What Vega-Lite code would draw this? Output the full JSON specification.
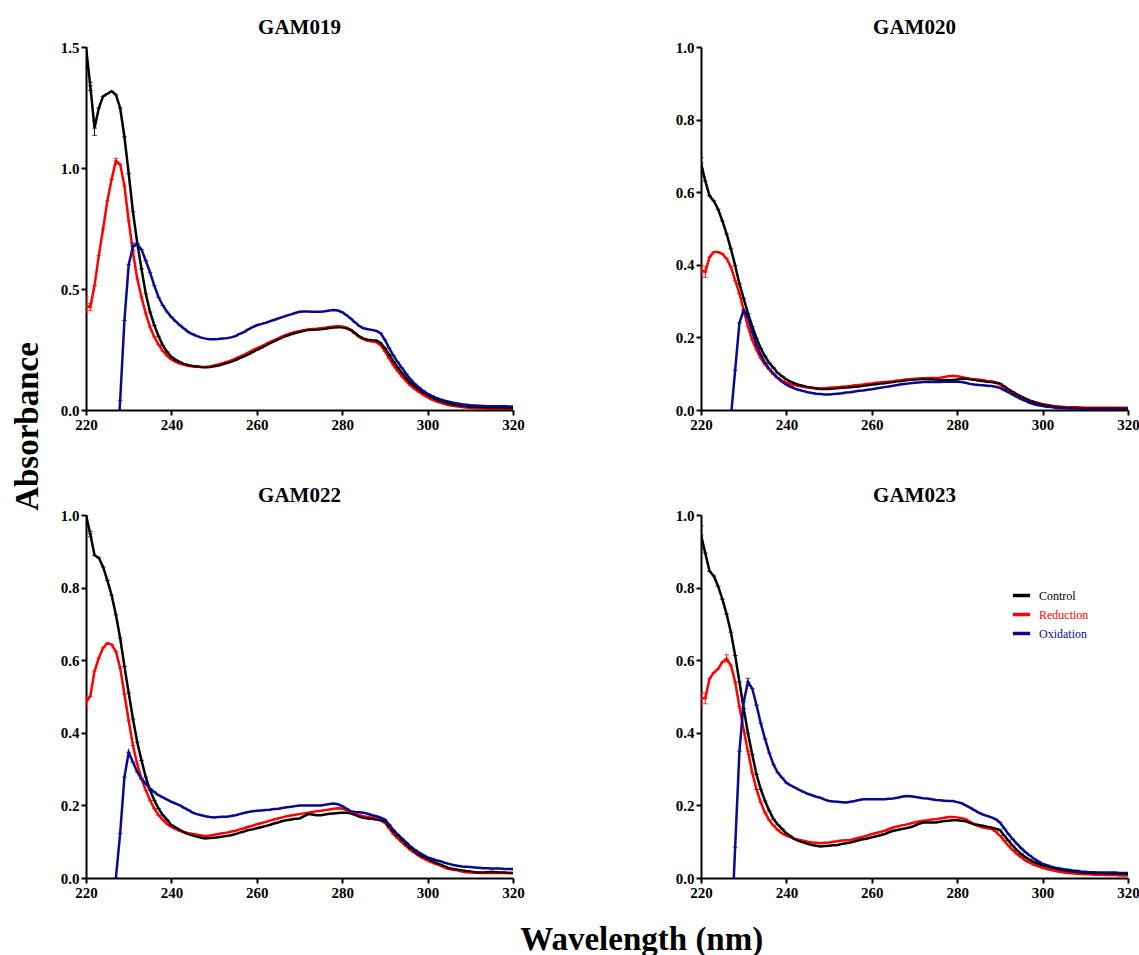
{
"$schema":"https://vega.github.io/schema/vega-lite/v6.json",
"background":"white",
"padding":{"left":12,"top":17,"right":5,"bottom":5},
"config":{"font":"Liberation Serif","view":{"stroke":null},"scale":{"continuousPadding":0},
"axis":{"grid":false,"domainColor":"black","domainWidth":2,"tickColor":"black","tickWidth":2,"tickSize":5,"labelFont":"Liberation Serif","labelFontWeight":"bold","labelFontSize":15,"labelColor":"black","labelPadding":2,"labelFlush":false,"labelOverlap":false},
"title":{"font":"Liberation Serif","fontWeight":"bold","color":"black"}},
"datasets":{
"spectra":[
{"p":"GAM019","w":220,"Control":1.5,"Reduction":0.43},
{"p":"GAM019","w":221,"Control":1.34,"Reduction":0.425},
{"p":"GAM019","w":222,"Control":1.165,"Reduction":0.514},
{"p":"GAM019","w":223,"Control":1.248,"Reduction":0.638},
{"p":"GAM019","w":224,"Control":1.296,"Reduction":0.748},
{"p":"GAM019","w":225,"Control":1.307,"Reduction":0.864},
{"p":"GAM019","w":226,"Control":1.317,"Reduction":0.953},
{"p":"GAM019","w":227,"Control":1.303,"Reduction":1.029,"Oxidation":-0.29},
{"p":"GAM019","w":228,"Control":1.248,"Reduction":1.015,"Oxidation":0.04},
{"p":"GAM019","w":229,"Control":1.129,"Reduction":0.926,"Oxidation":0.37},
{"p":"GAM019","w":230,"Control":0.977,"Reduction":0.782,"Oxidation":0.6},
{"p":"GAM019","w":231,"Control":0.819,"Reduction":0.652,"Oxidation":0.675},
{"p":"GAM019","w":232,"Control":0.69,"Reduction":0.542,"Oxidation":0.685},
{"p":"GAM019","w":233,"Control":0.583,"Reduction":0.466,"Oxidation":0.663},
{"p":"GAM019","w":234,"Control":0.48,"Reduction":0.398,"Oxidation":0.617},
{"p":"GAM019","w":235,"Control":0.405,"Reduction":0.343,"Oxidation":0.569},
{"p":"GAM019","w":236,"Control":0.35,"Reduction":0.302,"Oxidation":0.514},
{"p":"GAM019","w":237,"Control":0.305,"Reduction":0.27,"Oxidation":0.466},
{"p":"GAM019","w":238,"Control":0.267,"Reduction":0.244,"Oxidation":0.432},
{"p":"GAM019","w":239,"Control":0.24,"Reduction":0.224,"Oxidation":0.405},
{"p":"GAM019","w":240,"Control":0.219,"Reduction":0.209,"Oxidation":0.384},
{"p":"GAM019","w":241,"Control":0.207,"Reduction":0.199,"Oxidation":0.366},
{"p":"GAM019","w":242,"Control":0.198,"Reduction":0.192,"Oxidation":0.35},
{"p":"GAM019","w":243,"Control":0.19,"Reduction":0.187,"Oxidation":0.336},
{"p":"GAM019","w":244,"Control":0.185,"Reduction":0.183,"Oxidation":0.322},
{"p":"GAM019","w":245,"Control":0.182,"Reduction":0.18,"Oxidation":0.313},
{"p":"GAM019","w":246,"Control":0.18,"Reduction":0.179,"Oxidation":0.305},
{"p":"GAM019","w":247,"Control":0.178,"Reduction":0.178,"Oxidation":0.299},
{"p":"GAM019","w":248,"Control":0.177,"Reduction":0.178,"Oxidation":0.295},
{"p":"GAM019","w":249,"Control":0.178,"Reduction":0.18,"Oxidation":0.292},
{"p":"GAM019","w":250,"Control":0.181,"Reduction":0.184,"Oxidation":0.292},
{"p":"GAM019","w":251,"Control":0.184,"Reduction":0.188,"Oxidation":0.293},
{"p":"GAM019","w":252,"Control":0.189,"Reduction":0.193,"Oxidation":0.295},
{"p":"GAM019","w":253,"Control":0.194,"Reduction":0.199,"Oxidation":0.297},
{"p":"GAM019","w":254,"Control":0.2,"Reduction":0.205,"Oxidation":0.3},
{"p":"GAM019","w":255,"Control":0.206,"Reduction":0.212,"Oxidation":0.305},
{"p":"GAM019","w":256,"Control":0.214,"Reduction":0.22,"Oxidation":0.315},
{"p":"GAM019","w":257,"Control":0.222,"Reduction":0.228,"Oxidation":0.322},
{"p":"GAM019","w":258,"Control":0.23,"Reduction":0.237,"Oxidation":0.333},
{"p":"GAM019","w":259,"Control":0.239,"Reduction":0.246,"Oxidation":0.342},
{"p":"GAM019","w":260,"Control":0.248,"Reduction":0.255,"Oxidation":0.35},
{"p":"GAM019","w":261,"Control":0.257,"Reduction":0.263,"Oxidation":0.355},
{"p":"GAM019","w":262,"Control":0.266,"Reduction":0.271,"Oxidation":0.36},
{"p":"GAM019","w":263,"Control":0.275,"Reduction":0.28,"Oxidation":0.366},
{"p":"GAM019","w":264,"Control":0.284,"Reduction":0.288,"Oxidation":0.372},
{"p":"GAM019","w":265,"Control":0.292,"Reduction":0.296,"Oxidation":0.378},
{"p":"GAM019","w":266,"Control":0.3,"Reduction":0.304,"Oxidation":0.384},
{"p":"GAM019","w":267,"Control":0.307,"Reduction":0.311,"Oxidation":0.39},
{"p":"GAM019","w":268,"Control":0.313,"Reduction":0.317,"Oxidation":0.395},
{"p":"GAM019","w":269,"Control":0.318,"Reduction":0.322,"Oxidation":0.401},
{"p":"GAM019","w":270,"Control":0.322,"Reduction":0.326,"Oxidation":0.406},
{"p":"GAM019","w":271,"Control":0.327,"Reduction":0.33,"Oxidation":0.407},
{"p":"GAM019","w":272,"Control":0.331,"Reduction":0.333,"Oxidation":0.407},
{"p":"GAM019","w":273,"Control":0.332,"Reduction":0.335,"Oxidation":0.406},
{"p":"GAM019","w":274,"Control":0.333,"Reduction":0.336,"Oxidation":0.406},
{"p":"GAM019","w":275,"Control":0.334,"Reduction":0.338,"Oxidation":0.406},
{"p":"GAM019","w":276,"Control":0.336,"Reduction":0.34,"Oxidation":0.408},
{"p":"GAM019","w":277,"Control":0.339,"Reduction":0.343,"Oxidation":0.411},
{"p":"GAM019","w":278,"Control":0.341,"Reduction":0.345,"Oxidation":0.413},
{"p":"GAM019","w":279,"Control":0.342,"Reduction":0.346,"Oxidation":0.411},
{"p":"GAM019","w":280,"Control":0.342,"Reduction":0.345,"Oxidation":0.404},
{"p":"GAM019","w":281,"Control":0.338,"Reduction":0.34,"Oxidation":0.392},
{"p":"GAM019","w":282,"Control":0.331,"Reduction":0.33,"Oxidation":0.378},
{"p":"GAM019","w":283,"Control":0.318,"Reduction":0.316,"Oxidation":0.362},
{"p":"GAM019","w":284,"Control":0.304,"Reduction":0.302,"Oxidation":0.347},
{"p":"GAM019","w":285,"Control":0.295,"Reduction":0.292,"Oxidation":0.338},
{"p":"GAM019","w":286,"Control":0.29,"Reduction":0.286,"Oxidation":0.334},
{"p":"GAM019","w":287,"Control":0.288,"Reduction":0.283,"Oxidation":0.331},
{"p":"GAM019","w":288,"Control":0.287,"Reduction":0.28,"Oxidation":0.327},
{"p":"GAM019","w":289,"Control":0.277,"Reduction":0.268,"Oxidation":0.317},
{"p":"GAM019","w":290,"Control":0.256,"Reduction":0.243,"Oxidation":0.29},
{"p":"GAM019","w":291,"Control":0.229,"Reduction":0.213,"Oxidation":0.256},
{"p":"GAM019","w":292,"Control":0.201,"Reduction":0.185,"Oxidation":0.225},
{"p":"GAM019","w":293,"Control":0.176,"Reduction":0.161,"Oxidation":0.198},
{"p":"GAM019","w":294,"Control":0.153,"Reduction":0.139,"Oxidation":0.174},
{"p":"GAM019","w":295,"Control":0.132,"Reduction":0.119,"Oxidation":0.149},
{"p":"GAM019","w":296,"Control":0.112,"Reduction":0.101,"Oxidation":0.127},
{"p":"GAM019","w":297,"Control":0.097,"Reduction":0.087,"Oxidation":0.108},
{"p":"GAM019","w":298,"Control":0.084,"Reduction":0.074,"Oxidation":0.093},
{"p":"GAM019","w":299,"Control":0.072,"Reduction":0.062,"Oxidation":0.079},
{"p":"GAM019","w":300,"Control":0.062,"Reduction":0.052,"Oxidation":0.067},
{"p":"GAM019","w":301,"Control":0.052,"Reduction":0.043,"Oxidation":0.058},
{"p":"GAM019","w":302,"Control":0.044,"Reduction":0.036,"Oxidation":0.05},
{"p":"GAM019","w":303,"Control":0.037,"Reduction":0.03,"Oxidation":0.044},
{"p":"GAM019","w":304,"Control":0.031,"Reduction":0.025,"Oxidation":0.038},
{"p":"GAM019","w":305,"Control":0.026,"Reduction":0.02,"Oxidation":0.034},
{"p":"GAM019","w":306,"Control":0.022,"Reduction":0.017,"Oxidation":0.03},
{"p":"GAM019","w":307,"Control":0.019,"Reduction":0.014,"Oxidation":0.027},
{"p":"GAM019","w":308,"Control":0.016,"Reduction":0.012,"Oxidation":0.024},
{"p":"GAM019","w":309,"Control":0.014,"Reduction":0.01,"Oxidation":0.022},
{"p":"GAM019","w":310,"Control":0.012,"Reduction":0.008,"Oxidation":0.02},
{"p":"GAM019","w":311,"Control":0.011,"Reduction":0.007,"Oxidation":0.019},
{"p":"GAM019","w":312,"Control":0.01,"Reduction":0.006,"Oxidation":0.018},
{"p":"GAM019","w":313,"Control":0.009,"Reduction":0.006,"Oxidation":0.017},
{"p":"GAM019","w":314,"Control":0.009,"Reduction":0.005,"Oxidation":0.016},
{"p":"GAM019","w":315,"Control":0.008,"Reduction":0.005,"Oxidation":0.016},
{"p":"GAM019","w":316,"Control":0.008,"Reduction":0.005,"Oxidation":0.015},
{"p":"GAM019","w":317,"Control":0.008,"Reduction":0.005,"Oxidation":0.015},
{"p":"GAM019","w":318,"Control":0.007,"Reduction":0.005,"Oxidation":0.015},
{"p":"GAM019","w":319,"Control":0.007,"Reduction":0.005,"Oxidation":0.014},
{"p":"GAM019","w":320,"Control":0.007,"Reduction":0.005,"Oxidation":0.014},
{"p":"GAM020","w":220,"Control":0.681,"Reduction":0.385},
{"p":"GAM020","w":221,"Control":0.631,"Reduction":0.38},
{"p":"GAM020","w":222,"Control":0.59,"Reduction":0.421},
{"p":"GAM020","w":223,"Control":0.576,"Reduction":0.435},
{"p":"GAM020","w":224,"Control":0.553,"Reduction":0.435},
{"p":"GAM020","w":225,"Control":0.521,"Reduction":0.43},
{"p":"GAM020","w":226,"Control":0.485,"Reduction":0.417},
{"p":"GAM020","w":227,"Control":0.444,"Reduction":0.394,"Oxidation":-0.02},
{"p":"GAM020","w":228,"Control":0.398,"Reduction":0.357,"Oxidation":0.11},
{"p":"GAM020","w":229,"Control":0.348,"Reduction":0.321,"Oxidation":0.24},
{"p":"GAM020","w":230,"Control":0.307,"Reduction":0.275,"Oxidation":0.275},
{"p":"GAM020","w":231,"Control":0.266,"Reduction":0.23,"Oxidation":0.255},
{"p":"GAM020","w":232,"Control":0.23,"Reduction":0.193,"Oxidation":0.215},
{"p":"GAM020","w":233,"Control":0.198,"Reduction":0.166,"Oxidation":0.18},
{"p":"GAM020","w":234,"Control":0.17,"Reduction":0.143,"Oxidation":0.152},
{"p":"GAM020","w":235,"Control":0.148,"Reduction":0.125,"Oxidation":0.13},
{"p":"GAM020","w":236,"Control":0.129,"Reduction":0.111,"Oxidation":0.113},
{"p":"GAM020","w":237,"Control":0.116,"Reduction":0.098,"Oxidation":0.1},
{"p":"GAM020","w":238,"Control":0.102,"Reduction":0.088,"Oxidation":0.088},
{"p":"GAM020","w":239,"Control":0.093,"Reduction":0.081,"Oxidation":0.078},
{"p":"GAM020","w":240,"Control":0.084,"Reduction":0.075,"Oxidation":0.07},
{"p":"GAM020","w":241,"Control":0.078,"Reduction":0.071,"Oxidation":0.064},
{"p":"GAM020","w":242,"Control":0.073,"Reduction":0.068,"Oxidation":0.059},
{"p":"GAM020","w":243,"Control":0.069,"Reduction":0.066,"Oxidation":0.055},
{"p":"GAM020","w":244,"Control":0.066,"Reduction":0.064,"Oxidation":0.052},
{"p":"GAM020","w":245,"Control":0.063,"Reduction":0.062,"Oxidation":0.049},
{"p":"GAM020","w":246,"Control":0.061,"Reduction":0.061,"Oxidation":0.047},
{"p":"GAM020","w":247,"Control":0.059,"Reduction":0.06,"Oxidation":0.045},
{"p":"GAM020","w":248,"Control":0.058,"Reduction":0.059,"Oxidation":0.044},
{"p":"GAM020","w":249,"Control":0.058,"Reduction":0.06,"Oxidation":0.043},
{"p":"GAM020","w":250,"Control":0.058,"Reduction":0.061,"Oxidation":0.043},
{"p":"GAM020","w":251,"Control":0.059,"Reduction":0.062,"Oxidation":0.044},
{"p":"GAM020","w":252,"Control":0.06,"Reduction":0.063,"Oxidation":0.045},
{"p":"GAM020","w":253,"Control":0.061,"Reduction":0.064,"Oxidation":0.046},
{"p":"GAM020","w":254,"Control":0.062,"Reduction":0.065,"Oxidation":0.048},
{"p":"GAM020","w":255,"Control":0.063,"Reduction":0.066,"Oxidation":0.049},
{"p":"GAM020","w":256,"Control":0.064,"Reduction":0.068,"Oxidation":0.051},
{"p":"GAM020","w":257,"Control":0.065,"Reduction":0.069,"Oxidation":0.053},
{"p":"GAM020","w":258,"Control":0.067,"Reduction":0.07,"Oxidation":0.054},
{"p":"GAM020","w":259,"Control":0.068,"Reduction":0.072,"Oxidation":0.056},
{"p":"GAM020","w":260,"Control":0.07,"Reduction":0.073,"Oxidation":0.057},
{"p":"GAM020","w":261,"Control":0.071,"Reduction":0.075,"Oxidation":0.059},
{"p":"GAM020","w":262,"Control":0.073,"Reduction":0.076,"Oxidation":0.061},
{"p":"GAM020","w":263,"Control":0.074,"Reduction":0.077,"Oxidation":0.063},
{"p":"GAM020","w":264,"Control":0.076,"Reduction":0.078,"Oxidation":0.065},
{"p":"GAM020","w":265,"Control":0.077,"Reduction":0.079,"Oxidation":0.067},
{"p":"GAM020","w":266,"Control":0.079,"Reduction":0.081,"Oxidation":0.069},
{"p":"GAM020","w":267,"Control":0.08,"Reduction":0.082,"Oxidation":0.071},
{"p":"GAM020","w":268,"Control":0.082,"Reduction":0.084,"Oxidation":0.072},
{"p":"GAM020","w":269,"Control":0.083,"Reduction":0.085,"Oxidation":0.074},
{"p":"GAM020","w":270,"Control":0.084,"Reduction":0.086,"Oxidation":0.075},
{"p":"GAM020","w":271,"Control":0.085,"Reduction":0.087,"Oxidation":0.076},
{"p":"GAM020","w":272,"Control":0.086,"Reduction":0.087,"Oxidation":0.077},
{"p":"GAM020","w":273,"Control":0.085,"Reduction":0.088,"Oxidation":0.077},
{"p":"GAM020","w":274,"Control":0.085,"Reduction":0.088,"Oxidation":0.077},
{"p":"GAM020","w":275,"Control":0.084,"Reduction":0.088,"Oxidation":0.077},
{"p":"GAM020","w":276,"Control":0.083,"Reduction":0.089,"Oxidation":0.077},
{"p":"GAM020","w":277,"Control":0.082,"Reduction":0.091,"Oxidation":0.078},
{"p":"GAM020","w":278,"Control":0.082,"Reduction":0.093,"Oxidation":0.078},
{"p":"GAM020","w":279,"Control":0.083,"Reduction":0.094,"Oxidation":0.078},
{"p":"GAM020","w":280,"Control":0.084,"Reduction":0.093,"Oxidation":0.078},
{"p":"GAM020","w":281,"Control":0.086,"Reduction":0.091,"Oxidation":0.077},
{"p":"GAM020","w":282,"Control":0.087,"Reduction":0.088,"Oxidation":0.075},
{"p":"GAM020","w":283,"Control":0.085,"Reduction":0.086,"Oxidation":0.072},
{"p":"GAM020","w":284,"Control":0.083,"Reduction":0.085,"Oxidation":0.07},
{"p":"GAM020","w":285,"Control":0.081,"Reduction":0.084,"Oxidation":0.069},
{"p":"GAM020","w":286,"Control":0.08,"Reduction":0.082,"Oxidation":0.068},
{"p":"GAM020","w":287,"Control":0.078,"Reduction":0.08,"Oxidation":0.067},
{"p":"GAM020","w":288,"Control":0.077,"Reduction":0.079,"Oxidation":0.066},
{"p":"GAM020","w":289,"Control":0.075,"Reduction":0.076,"Oxidation":0.064},
{"p":"GAM020","w":290,"Control":0.073,"Reduction":0.07,"Oxidation":0.061},
{"p":"GAM020","w":291,"Control":0.065,"Reduction":0.062,"Oxidation":0.055},
{"p":"GAM020","w":292,"Control":0.057,"Reduction":0.055,"Oxidation":0.049},
{"p":"GAM020","w":293,"Control":0.05,"Reduction":0.048,"Oxidation":0.042},
{"p":"GAM020","w":294,"Control":0.043,"Reduction":0.041,"Oxidation":0.036},
{"p":"GAM020","w":295,"Control":0.037,"Reduction":0.036,"Oxidation":0.03},
{"p":"GAM020","w":296,"Control":0.031,"Reduction":0.031,"Oxidation":0.025},
{"p":"GAM020","w":297,"Control":0.026,"Reduction":0.026,"Oxidation":0.02},
{"p":"GAM020","w":298,"Control":0.022,"Reduction":0.022,"Oxidation":0.016},
{"p":"GAM020","w":299,"Control":0.018,"Reduction":0.019,"Oxidation":0.013},
{"p":"GAM020","w":300,"Control":0.015,"Reduction":0.016,"Oxidation":0.011},
{"p":"GAM020","w":301,"Control":0.013,"Reduction":0.014,"Oxidation":0.009},
{"p":"GAM020","w":302,"Control":0.011,"Reduction":0.012,"Oxidation":0.008},
{"p":"GAM020","w":303,"Control":0.009,"Reduction":0.01,"Oxidation":0.006},
{"p":"GAM020","w":304,"Control":0.008,"Reduction":0.009,"Oxidation":0.005},
{"p":"GAM020","w":305,"Control":0.007,"Reduction":0.008,"Oxidation":0.005},
{"p":"GAM020","w":306,"Control":0.006,"Reduction":0.007,"Oxidation":0.004},
{"p":"GAM020","w":307,"Control":0.006,"Reduction":0.007,"Oxidation":0.004},
{"p":"GAM020","w":308,"Control":0.006,"Reduction":0.007,"Oxidation":0.004},
{"p":"GAM020","w":309,"Control":0.005,"Reduction":0.007,"Oxidation":0.003},
{"p":"GAM020","w":310,"Control":0.005,"Reduction":0.006,"Oxidation":0.003},
{"p":"GAM020","w":311,"Control":0.005,"Reduction":0.006,"Oxidation":0.003},
{"p":"GAM020","w":312,"Control":0.005,"Reduction":0.006,"Oxidation":0.003},
{"p":"GAM020","w":313,"Control":0.005,"Reduction":0.006,"Oxidation":0.003},
{"p":"GAM020","w":314,"Control":0.005,"Reduction":0.006,"Oxidation":0.003},
{"p":"GAM020","w":315,"Control":0.005,"Reduction":0.006,"Oxidation":0.003},
{"p":"GAM020","w":316,"Control":0.005,"Reduction":0.006,"Oxidation":0.003},
{"p":"GAM020","w":317,"Control":0.005,"Reduction":0.006,"Oxidation":0.003},
{"p":"GAM020","w":318,"Control":0.005,"Reduction":0.006,"Oxidation":0.003},
{"p":"GAM020","w":319,"Control":0.005,"Reduction":0.006,"Oxidation":0.003},
{"p":"GAM020","w":320,"Control":0.005,"Reduction":0.006,"Oxidation":0.003},
{"p":"GAM022","w":220,"Control":1.0,"Reduction":0.485},
{"p":"GAM022","w":221,"Control":0.948,"Reduction":0.5},
{"p":"GAM022","w":222,"Control":0.889,"Reduction":0.57},
{"p":"GAM022","w":223,"Control":0.882,"Reduction":0.606},
{"p":"GAM022","w":224,"Control":0.857,"Reduction":0.634},
{"p":"GAM022","w":225,"Control":0.82,"Reduction":0.647},
{"p":"GAM022","w":226,"Control":0.779,"Reduction":0.643},
{"p":"GAM022","w":227,"Control":0.725,"Reduction":0.624,"Oxidation":0.0},
{"p":"GAM022","w":228,"Control":0.661,"Reduction":0.579,"Oxidation":0.123},
{"p":"GAM022","w":229,"Control":0.583,"Reduction":0.506,"Oxidation":0.278},
{"p":"GAM022","w":230,"Control":0.51,"Reduction":0.433,"Oxidation":0.346},
{"p":"GAM022","w":231,"Control":0.438,"Reduction":0.365,"Oxidation":0.319},
{"p":"GAM022","w":232,"Control":0.374,"Reduction":0.314,"Oxidation":0.292},
{"p":"GAM022","w":233,"Control":0.324,"Reduction":0.273,"Oxidation":0.273},
{"p":"GAM022","w":234,"Control":0.278,"Reduction":0.242,"Oxidation":0.26},
{"p":"GAM022","w":235,"Control":0.242,"Reduction":0.214,"Oxidation":0.246},
{"p":"GAM022","w":236,"Control":0.214,"Reduction":0.191,"Oxidation":0.237},
{"p":"GAM022","w":237,"Control":0.191,"Reduction":0.173,"Oxidation":0.228},
{"p":"GAM022","w":238,"Control":0.173,"Reduction":0.16,"Oxidation":0.222},
{"p":"GAM022","w":239,"Control":0.16,"Reduction":0.149,"Oxidation":0.216},
{"p":"GAM022","w":240,"Control":0.146,"Reduction":0.141,"Oxidation":0.21},
{"p":"GAM022","w":241,"Control":0.139,"Reduction":0.135,"Oxidation":0.205},
{"p":"GAM022","w":242,"Control":0.132,"Reduction":0.13,"Oxidation":0.2},
{"p":"GAM022","w":243,"Control":0.126,"Reduction":0.126,"Oxidation":0.193},
{"p":"GAM022","w":244,"Control":0.121,"Reduction":0.123,"Oxidation":0.187},
{"p":"GAM022","w":245,"Control":0.117,"Reduction":0.121,"Oxidation":0.18},
{"p":"GAM022","w":246,"Control":0.114,"Reduction":0.119,"Oxidation":0.176},
{"p":"GAM022","w":247,"Control":0.111,"Reduction":0.117,"Oxidation":0.173},
{"p":"GAM022","w":248,"Control":0.109,"Reduction":0.116,"Oxidation":0.17},
{"p":"GAM022","w":249,"Control":0.11,"Reduction":0.117,"Oxidation":0.168},
{"p":"GAM022","w":250,"Control":0.111,"Reduction":0.119,"Oxidation":0.167},
{"p":"GAM022","w":251,"Control":0.112,"Reduction":0.121,"Oxidation":0.168},
{"p":"GAM022","w":252,"Control":0.114,"Reduction":0.123,"Oxidation":0.169},
{"p":"GAM022","w":253,"Control":0.116,"Reduction":0.125,"Oxidation":0.169},
{"p":"GAM022","w":254,"Control":0.118,"Reduction":0.128,"Oxidation":0.171},
{"p":"GAM022","w":255,"Control":0.121,"Reduction":0.13,"Oxidation":0.173},
{"p":"GAM022","w":256,"Control":0.125,"Reduction":0.134,"Oxidation":0.176},
{"p":"GAM022","w":257,"Control":0.128,"Reduction":0.137,"Oxidation":0.179},
{"p":"GAM022","w":258,"Control":0.132,"Reduction":0.141,"Oxidation":0.182},
{"p":"GAM022","w":259,"Control":0.134,"Reduction":0.144,"Oxidation":0.184},
{"p":"GAM022","w":260,"Control":0.137,"Reduction":0.148,"Oxidation":0.185},
{"p":"GAM022","w":261,"Control":0.14,"Reduction":0.151,"Oxidation":0.186},
{"p":"GAM022","w":262,"Control":0.143,"Reduction":0.154,"Oxidation":0.187},
{"p":"GAM022","w":263,"Control":0.146,"Reduction":0.158,"Oxidation":0.188},
{"p":"GAM022","w":264,"Control":0.15,"Reduction":0.161,"Oxidation":0.19},
{"p":"GAM022","w":265,"Control":0.153,"Reduction":0.164,"Oxidation":0.191},
{"p":"GAM022","w":266,"Control":0.157,"Reduction":0.167,"Oxidation":0.193},
{"p":"GAM022","w":267,"Control":0.159,"Reduction":0.17,"Oxidation":0.195},
{"p":"GAM022","w":268,"Control":0.161,"Reduction":0.172,"Oxidation":0.196},
{"p":"GAM022","w":269,"Control":0.163,"Reduction":0.174,"Oxidation":0.198},
{"p":"GAM022","w":270,"Control":0.164,"Reduction":0.176,"Oxidation":0.2},
{"p":"GAM022","w":271,"Control":0.17,"Reduction":0.178,"Oxidation":0.2},
{"p":"GAM022","w":272,"Control":0.176,"Reduction":0.18,"Oxidation":0.2},
{"p":"GAM022","w":273,"Control":0.175,"Reduction":0.182,"Oxidation":0.2},
{"p":"GAM022","w":274,"Control":0.173,"Reduction":0.184,"Oxidation":0.2},
{"p":"GAM022","w":275,"Control":0.173,"Reduction":0.185,"Oxidation":0.2},
{"p":"GAM022","w":276,"Control":0.175,"Reduction":0.187,"Oxidation":0.202},
{"p":"GAM022","w":277,"Control":0.177,"Reduction":0.189,"Oxidation":0.204},
{"p":"GAM022","w":278,"Control":0.178,"Reduction":0.191,"Oxidation":0.205},
{"p":"GAM022","w":279,"Control":0.179,"Reduction":0.192,"Oxidation":0.203},
{"p":"GAM022","w":280,"Control":0.18,"Reduction":0.191,"Oxidation":0.198},
{"p":"GAM022","w":281,"Control":0.18,"Reduction":0.187,"Oxidation":0.191},
{"p":"GAM022","w":282,"Control":0.178,"Reduction":0.182,"Oxidation":0.184},
{"p":"GAM022","w":283,"Control":0.174,"Reduction":0.177,"Oxidation":0.182},
{"p":"GAM022","w":284,"Control":0.169,"Reduction":0.173,"Oxidation":0.181},
{"p":"GAM022","w":285,"Control":0.166,"Reduction":0.17,"Oxidation":0.18},
{"p":"GAM022","w":286,"Control":0.164,"Reduction":0.168,"Oxidation":0.177},
{"p":"GAM022","w":287,"Control":0.163,"Reduction":0.166,"Oxidation":0.173},
{"p":"GAM022","w":288,"Control":0.161,"Reduction":0.164,"Oxidation":0.17},
{"p":"GAM022","w":289,"Control":0.159,"Reduction":0.159,"Oxidation":0.166},
{"p":"GAM022","w":290,"Control":0.155,"Reduction":0.152,"Oxidation":0.161},
{"p":"GAM022","w":291,"Control":0.142,"Reduction":0.137,"Oxidation":0.147},
{"p":"GAM022","w":292,"Control":0.128,"Reduction":0.121,"Oxidation":0.132},
{"p":"GAM022","w":293,"Control":0.116,"Reduction":0.109,"Oxidation":0.12},
{"p":"GAM022","w":294,"Control":0.105,"Reduction":0.098,"Oxidation":0.109},
{"p":"GAM022","w":295,"Control":0.093,"Reduction":0.087,"Oxidation":0.098},
{"p":"GAM022","w":296,"Control":0.082,"Reduction":0.077,"Oxidation":0.087},
{"p":"GAM022","w":297,"Control":0.073,"Reduction":0.069,"Oxidation":0.078},
{"p":"GAM022","w":298,"Control":0.064,"Reduction":0.061,"Oxidation":0.07},
{"p":"GAM022","w":299,"Control":0.058,"Reduction":0.054,"Oxidation":0.063},
{"p":"GAM022","w":300,"Control":0.052,"Reduction":0.048,"Oxidation":0.057},
{"p":"GAM022","w":301,"Control":0.047,"Reduction":0.043,"Oxidation":0.053},
{"p":"GAM022","w":302,"Control":0.041,"Reduction":0.038,"Oxidation":0.049},
{"p":"GAM022","w":303,"Control":0.037,"Reduction":0.034,"Oxidation":0.046},
{"p":"GAM022","w":304,"Control":0.032,"Reduction":0.029,"Oxidation":0.042},
{"p":"GAM022","w":305,"Control":0.027,"Reduction":0.025,"Oxidation":0.039},
{"p":"GAM022","w":306,"Control":0.025,"Reduction":0.023,"Oxidation":0.036},
{"p":"GAM022","w":307,"Control":0.023,"Reduction":0.021,"Oxidation":0.034},
{"p":"GAM022","w":308,"Control":0.021,"Reduction":0.018,"Oxidation":0.032},
{"p":"GAM022","w":309,"Control":0.019,"Reduction":0.016,"Oxidation":0.031},
{"p":"GAM022","w":310,"Control":0.018,"Reduction":0.015,"Oxidation":0.03},
{"p":"GAM022","w":311,"Control":0.016,"Reduction":0.015,"Oxidation":0.029},
{"p":"GAM022","w":312,"Control":0.015,"Reduction":0.014,"Oxidation":0.028},
{"p":"GAM022","w":313,"Control":0.015,"Reduction":0.014,"Oxidation":0.027},
{"p":"GAM022","w":314,"Control":0.016,"Reduction":0.014,"Oxidation":0.027},
{"p":"GAM022","w":315,"Control":0.017,"Reduction":0.014,"Oxidation":0.026},
{"p":"GAM022","w":316,"Control":0.016,"Reduction":0.014,"Oxidation":0.026},
{"p":"GAM022","w":317,"Control":0.015,"Reduction":0.014,"Oxidation":0.026},
{"p":"GAM022","w":318,"Control":0.015,"Reduction":0.014,"Oxidation":0.025},
{"p":"GAM022","w":319,"Control":0.014,"Reduction":0.014,"Oxidation":0.025},
{"p":"GAM022","w":320,"Control":0.014,"Reduction":0.014,"Oxidation":0.025},
{"p":"GAM023","w":220,"Control":0.945,"Reduction":0.495},
{"p":"GAM023","w":221,"Control":0.895,"Reduction":0.495},
{"p":"GAM023","w":222,"Control":0.845,"Reduction":0.549},
{"p":"GAM023","w":223,"Control":0.832,"Reduction":0.566},
{"p":"GAM023","w":224,"Control":0.804,"Reduction":0.576},
{"p":"GAM023","w":225,"Control":0.768,"Reduction":0.595},
{"p":"GAM023","w":226,"Control":0.727,"Reduction":0.604},
{"p":"GAM023","w":227,"Control":0.677,"Reduction":0.586,"Oxidation":-0.18},
{"p":"GAM023","w":228,"Control":0.613,"Reduction":0.54,"Oxidation":0.085},
{"p":"GAM023","w":229,"Control":0.54,"Reduction":0.472,"Oxidation":0.349},
{"p":"GAM023","w":230,"Control":0.467,"Reduction":0.408,"Oxidation":0.485},
{"p":"GAM023","w":231,"Control":0.399,"Reduction":0.349,"Oxidation":0.54},
{"p":"GAM023","w":232,"Control":0.34,"Reduction":0.29,"Oxidation":0.522},
{"p":"GAM023","w":233,"Control":0.285,"Reduction":0.244,"Oxidation":0.476},
{"p":"GAM023","w":234,"Control":0.244,"Reduction":0.208,"Oxidation":0.426},
{"p":"GAM023","w":235,"Control":0.212,"Reduction":0.18,"Oxidation":0.383},
{"p":"GAM023","w":236,"Control":0.185,"Reduction":0.159,"Oxidation":0.344},
{"p":"GAM023","w":237,"Control":0.162,"Reduction":0.144,"Oxidation":0.312},
{"p":"GAM023","w":238,"Control":0.147,"Reduction":0.132,"Oxidation":0.29},
{"p":"GAM023","w":239,"Control":0.135,"Reduction":0.123,"Oxidation":0.276},
{"p":"GAM023","w":240,"Control":0.123,"Reduction":0.117,"Oxidation":0.262},
{"p":"GAM023","w":241,"Control":0.115,"Reduction":0.112,"Oxidation":0.255},
{"p":"GAM023","w":242,"Control":0.107,"Reduction":0.107,"Oxidation":0.249},
{"p":"GAM023","w":243,"Control":0.102,"Reduction":0.105,"Oxidation":0.243},
{"p":"GAM023","w":244,"Control":0.098,"Reduction":0.103,"Oxidation":0.237},
{"p":"GAM023","w":245,"Control":0.094,"Reduction":0.1,"Oxidation":0.232},
{"p":"GAM023","w":246,"Control":0.091,"Reduction":0.098,"Oxidation":0.228},
{"p":"GAM023","w":247,"Control":0.089,"Reduction":0.097,"Oxidation":0.224},
{"p":"GAM023","w":248,"Control":0.087,"Reduction":0.096,"Oxidation":0.221},
{"p":"GAM023","w":249,"Control":0.088,"Reduction":0.097,"Oxidation":0.216},
{"p":"GAM023","w":250,"Control":0.089,"Reduction":0.098,"Oxidation":0.212},
{"p":"GAM023","w":251,"Control":0.09,"Reduction":0.1,"Oxidation":0.211},
{"p":"GAM023","w":252,"Control":0.091,"Reduction":0.101,"Oxidation":0.21},
{"p":"GAM023","w":253,"Control":0.094,"Reduction":0.103,"Oxidation":0.209},
{"p":"GAM023","w":254,"Control":0.096,"Reduction":0.104,"Oxidation":0.208},
{"p":"GAM023","w":255,"Control":0.098,"Reduction":0.105,"Oxidation":0.21},
{"p":"GAM023","w":256,"Control":0.101,"Reduction":0.108,"Oxidation":0.212},
{"p":"GAM023","w":257,"Control":0.104,"Reduction":0.111,"Oxidation":0.215},
{"p":"GAM023","w":258,"Control":0.107,"Reduction":0.114,"Oxidation":0.217},
{"p":"GAM023","w":259,"Control":0.109,"Reduction":0.117,"Oxidation":0.217},
{"p":"GAM023","w":260,"Control":0.112,"Reduction":0.121,"Oxidation":0.217},
{"p":"GAM023","w":261,"Control":0.115,"Reduction":0.124,"Oxidation":0.217},
{"p":"GAM023","w":262,"Control":0.118,"Reduction":0.127,"Oxidation":0.217},
{"p":"GAM023","w":263,"Control":0.121,"Reduction":0.13,"Oxidation":0.217},
{"p":"GAM023","w":264,"Control":0.126,"Reduction":0.135,"Oxidation":0.218},
{"p":"GAM023","w":265,"Control":0.13,"Reduction":0.139,"Oxidation":0.219},
{"p":"GAM023","w":266,"Control":0.132,"Reduction":0.142,"Oxidation":0.221},
{"p":"GAM023","w":267,"Control":0.135,"Reduction":0.145,"Oxidation":0.224},
{"p":"GAM023","w":268,"Control":0.137,"Reduction":0.147,"Oxidation":0.226},
{"p":"GAM023","w":269,"Control":0.14,"Reduction":0.15,"Oxidation":0.225},
{"p":"GAM023","w":270,"Control":0.144,"Reduction":0.153,"Oxidation":0.224},
{"p":"GAM023","w":271,"Control":0.149,"Reduction":0.156,"Oxidation":0.222},
{"p":"GAM023","w":272,"Control":0.153,"Reduction":0.158,"Oxidation":0.22},
{"p":"GAM023","w":273,"Control":0.153,"Reduction":0.159,"Oxidation":0.219},
{"p":"GAM023","w":274,"Control":0.153,"Reduction":0.161,"Oxidation":0.217},
{"p":"GAM023","w":275,"Control":0.153,"Reduction":0.162,"Oxidation":0.215},
{"p":"GAM023","w":276,"Control":0.155,"Reduction":0.164,"Oxidation":0.214},
{"p":"GAM023","w":277,"Control":0.157,"Reduction":0.166,"Oxidation":0.213},
{"p":"GAM023","w":278,"Control":0.158,"Reduction":0.168,"Oxidation":0.212},
{"p":"GAM023","w":279,"Control":0.159,"Reduction":0.168,"Oxidation":0.212},
{"p":"GAM023","w":280,"Control":0.159,"Reduction":0.167,"Oxidation":0.209},
{"p":"GAM023","w":281,"Control":0.158,"Reduction":0.165,"Oxidation":0.206},
{"p":"GAM023","w":282,"Control":0.156,"Reduction":0.162,"Oxidation":0.2},
{"p":"GAM023","w":283,"Control":0.152,"Reduction":0.155,"Oxidation":0.194},
{"p":"GAM023","w":284,"Control":0.148,"Reduction":0.148,"Oxidation":0.187},
{"p":"GAM023","w":285,"Control":0.146,"Reduction":0.143,"Oxidation":0.18},
{"p":"GAM023","w":286,"Control":0.144,"Reduction":0.139,"Oxidation":0.175},
{"p":"GAM023","w":287,"Control":0.141,"Reduction":0.137,"Oxidation":0.171},
{"p":"GAM023","w":288,"Control":0.139,"Reduction":0.135,"Oxidation":0.167},
{"p":"GAM023","w":289,"Control":0.136,"Reduction":0.128,"Oxidation":0.162},
{"p":"GAM023","w":290,"Control":0.132,"Reduction":0.117,"Oxidation":0.153},
{"p":"GAM023","w":291,"Control":0.117,"Reduction":0.103,"Oxidation":0.137},
{"p":"GAM023","w":292,"Control":0.103,"Reduction":0.089,"Oxidation":0.121},
{"p":"GAM023","w":293,"Control":0.089,"Reduction":0.077,"Oxidation":0.107},
{"p":"GAM023","w":294,"Control":0.076,"Reduction":0.066,"Oxidation":0.094},
{"p":"GAM023","w":295,"Control":0.066,"Reduction":0.057,"Oxidation":0.082},
{"p":"GAM023","w":296,"Control":0.057,"Reduction":0.048,"Oxidation":0.071},
{"p":"GAM023","w":297,"Control":0.05,"Reduction":0.042,"Oxidation":0.062},
{"p":"GAM023","w":298,"Control":0.044,"Reduction":0.036,"Oxidation":0.053},
{"p":"GAM023","w":299,"Control":0.039,"Reduction":0.032,"Oxidation":0.046},
{"p":"GAM023","w":300,"Control":0.035,"Reduction":0.028,"Oxidation":0.039},
{"p":"GAM023","w":301,"Control":0.032,"Reduction":0.025,"Oxidation":0.035},
{"p":"GAM023","w":302,"Control":0.029,"Reduction":0.022,"Oxidation":0.031},
{"p":"GAM023","w":303,"Control":0.026,"Reduction":0.019,"Oxidation":0.028},
{"p":"GAM023","w":304,"Control":0.023,"Reduction":0.017,"Oxidation":0.026},
{"p":"GAM023","w":305,"Control":0.021,"Reduction":0.015,"Oxidation":0.024},
{"p":"GAM023","w":306,"Control":0.019,"Reduction":0.014,"Oxidation":0.023},
{"p":"GAM023","w":307,"Control":0.018,"Reduction":0.013,"Oxidation":0.021},
{"p":"GAM023","w":308,"Control":0.016,"Reduction":0.012,"Oxidation":0.02},
{"p":"GAM023","w":309,"Control":0.015,"Reduction":0.011,"Oxidation":0.018},
{"p":"GAM023","w":310,"Control":0.014,"Reduction":0.01,"Oxidation":0.017},
{"p":"GAM023","w":311,"Control":0.013,"Reduction":0.01,"Oxidation":0.016},
{"p":"GAM023","w":312,"Control":0.013,"Reduction":0.009,"Oxidation":0.016},
{"p":"GAM023","w":313,"Control":0.013,"Reduction":0.009,"Oxidation":0.015},
{"p":"GAM023","w":314,"Control":0.013,"Reduction":0.009,"Oxidation":0.015},
{"p":"GAM023","w":315,"Control":0.012,"Reduction":0.008,"Oxidation":0.015},
{"p":"GAM023","w":316,"Control":0.012,"Reduction":0.008,"Oxidation":0.015},
{"p":"GAM023","w":317,"Control":0.012,"Reduction":0.008,"Oxidation":0.015},
{"p":"GAM023","w":318,"Control":0.012,"Reduction":0.007,"Oxidation":0.014},
{"p":"GAM023","w":319,"Control":0.012,"Reduction":0.007,"Oxidation":0.014},
{"p":"GAM023","w":320,"Control":0.012,"Reduction":0.007,"Oxidation":0.014}
],
"errors":[
{"p":"GAM019","t":"Control","w":221,"lower":1.32,"upper":1.355},
{"p":"GAM019","t":"Control","w":222,"lower":1.135,"upper":1.195},
{"p":"GAM019","t":"Reduction","w":220,"lower":0.4,"upper":0.47},
{"p":"GAM019","t":"Reduction","w":221,"lower":0.41,"upper":0.44},
{"p":"GAM019","t":"Reduction","w":227,"lower":1.015,"upper":1.04},
{"p":"GAM019","t":"Oxidation","w":231,"lower":0.66,"upper":0.69},
{"p":"GAM020","t":"Control","w":220,"lower":0.665,"upper":0.695},
{"p":"GAM020","t":"Reduction","w":220,"lower":0.37,"upper":0.4},
{"p":"GAM020","t":"Reduction","w":221,"lower":0.365,"upper":0.395},
{"p":"GAM022","t":"Control","w":221,"lower":0.94,"upper":0.955},
{"p":"GAM022","t":"Reduction","w":220,"lower":0.47,"upper":0.5},
{"p":"GAM023","t":"Control","w":220,"lower":0.92,"upper":0.97},
{"p":"GAM023","t":"Reduction","w":220,"lower":0.47,"upper":0.51},
{"p":"GAM023","t":"Reduction","w":221,"lower":0.48,"upper":0.51},
{"p":"GAM023","t":"Reduction","w":226,"lower":0.595,"upper":0.615},
{"p":"GAM023","t":"Oxidation","w":231,"lower":0.53,"upper":0.55}
]
},
"title":{"text":"Wavelength (nm)","orient":"bottom","fontSize":33,"offset":24,"anchor":"middle","dx":66},
"vconcat":[{
"title":{"text":"Absorbance","orient":"left","fontSize":33,"offset":15,"anchor":"middle","dx":32},
"resolve":{"legend":{"color":"independent"}},
"spacing":53,
"vconcat":[
{"hconcat":[
{"title":{"text":"GAM019","fontSize":21,"offset":2},"width":427,"height":363,
"encoding":{"x":{"field":"w","type":"quantitative","title":null,"scale":{"domain":[220,320],"nice":false,"padding":0},"axis":{"values":[220,240,260,280,300,320],"format":"d"}},
"y":{"field":"Absorbance","type":"quantitative","title":null,"scale":{"domain":[0,1.5],"nice":false,"padding":0},"axis":{"values":[0,0.5,1,1.5],"format":".1f"}},
"color":{"field":"t","type":"nominal","scale":{"domain":["Control","Reduction","Oxidation"],"range":["#000000","#ff0000","#0a0a8c"]},"legend":null}},
"layer":[
{"data":{"name":"spectra"},"transform":[{"filter":"datum.p==='GAM019'"},{"fold":["Oxidation","Reduction","Control"],"as":["t","Absorbance"]},{"filter":"isValid(datum.Absorbance)"}],
"layer":[{"mark":{"type":"line","strokeWidth":2.5,"clip":true},"encoding":{}},{"mark":{"type":"tick","orient":"horizontal","size":5,"thickness":1,"clip":true}}]},
{"data":{"name":"errors"},"transform":[{"filter":"datum.p==='GAM019'"}],"mark":{"type":"errorbar","ticks":true,"clip":true},"encoding":{"y":{"field":"lower","type":"quantitative","title":null},"y2":{"field":"upper"}}}
]},
{"title":{"text":"GAM020","fontSize":21,"offset":2},"width":427,"height":363,
"encoding":{"x":{"field":"w","type":"quantitative","title":null,"scale":{"domain":[220,320],"nice":false,"padding":0},"axis":{"values":[220,240,260,280,300,320],"format":"d"}},
"y":{"field":"Absorbance","type":"quantitative","title":null,"scale":{"domain":[0,1],"nice":false,"padding":0},"axis":{"values":[0,0.2,0.4,0.6,0.8,1],"format":".1f"}},
"color":{"field":"t","type":"nominal","scale":{"domain":["Control","Reduction","Oxidation"],"range":["#000000","#ff0000","#0a0a8c"]},"legend":null}},
"layer":[
{"data":{"name":"spectra"},"transform":[{"filter":"datum.p==='GAM020'"},{"fold":["Oxidation","Reduction","Control"],"as":["t","Absorbance"]},{"filter":"isValid(datum.Absorbance)"}],
"layer":[{"mark":{"type":"line","strokeWidth":2.5,"clip":true},"encoding":{}},{"mark":{"type":"tick","orient":"horizontal","size":5,"thickness":1,"clip":true}}]},
{"data":{"name":"errors"},"transform":[{"filter":"datum.p==='GAM020'"}],"mark":{"type":"errorbar","ticks":true,"clip":true},"encoding":{"y":{"field":"lower","type":"quantitative","title":null},"y2":{"field":"upper"}}}
]}
],"spacing":150,"resolve":{"legend":{"color":"independent"}}},
{"hconcat":[
{"title":{"text":"GAM022","fontSize":21,"offset":2},"width":427,"height":363,
"encoding":{"x":{"field":"w","type":"quantitative","title":null,"scale":{"domain":[220,320],"nice":false,"padding":0},"axis":{"values":[220,240,260,280,300,320],"format":"d"}},
"y":{"field":"Absorbance","type":"quantitative","title":null,"scale":{"domain":[0,1],"nice":false,"padding":0},"axis":{"values":[0,0.2,0.4,0.6,0.8,1],"format":".1f"}},
"color":{"field":"t","type":"nominal","scale":{"domain":["Control","Reduction","Oxidation"],"range":["#000000","#ff0000","#0a0a8c"]},"legend":null}},
"layer":[
{"data":{"name":"spectra"},"transform":[{"filter":"datum.p==='GAM022'"},{"fold":["Oxidation","Reduction","Control"],"as":["t","Absorbance"]},{"filter":"isValid(datum.Absorbance)"}],
"layer":[{"mark":{"type":"line","strokeWidth":2.5,"clip":true},"encoding":{}},{"mark":{"type":"tick","orient":"horizontal","size":5,"thickness":1,"clip":true}}]},
{"data":{"name":"errors"},"transform":[{"filter":"datum.p==='GAM022'"}],"mark":{"type":"errorbar","ticks":true,"clip":true},"encoding":{"y":{"field":"lower","type":"quantitative","title":null},"y2":{"field":"upper"}}}
]},
{"title":{"text":"GAM023","fontSize":21,"offset":2},"width":427,"height":363,
"encoding":{"x":{"field":"w","type":"quantitative","title":null,"scale":{"domain":[220,320],"nice":false,"padding":0},"axis":{"values":[220,240,260,280,300,320],"format":"d"}},
"y":{"field":"Absorbance","type":"quantitative","title":null,"scale":{"domain":[0,1],"nice":false,"padding":0},"axis":{"values":[0,0.2,0.4,0.6,0.8,1],"format":".1f"}},
"color":{"field":"t","type":"nominal","scale":{"domain":["Control","Reduction","Oxidation"],"range":["#000000","#ff0000","#0a0a8c"]},
"legend":{"orient":"none","legendX":310,"legendY":70,"title":null,"symbolType":"stroke","symbolSize":300,"symbolStrokeWidth":3.5,"labelFont":"Liberation Serif","labelFontSize":12,"labelFontWeight":"normal","rowPadding":1,"labelOffset":7,"encode":{"labels":{"update":{"fill":{"scale":"color","field":"value"}}}}}}},
"layer":[
{"data":{"name":"spectra"},"transform":[{"filter":"datum.p==='GAM023'"},{"fold":["Oxidation","Reduction","Control"],"as":["t","Absorbance"]},{"filter":"isValid(datum.Absorbance)"}],
"layer":[{"mark":{"type":"line","strokeWidth":2.5,"clip":true},"encoding":{}},{"mark":{"type":"tick","orient":"horizontal","size":5,"thickness":1,"clip":true}}]},
{"data":{"name":"errors"},"transform":[{"filter":"datum.p==='GAM023'"}],"mark":{"type":"errorbar","ticks":true,"clip":true},"encoding":{"y":{"field":"lower","type":"quantitative","title":null},"y2":{"field":"upper"}}}
]}
],"spacing":150,"resolve":{"legend":{"color":"independent"}}}
]}]
}
